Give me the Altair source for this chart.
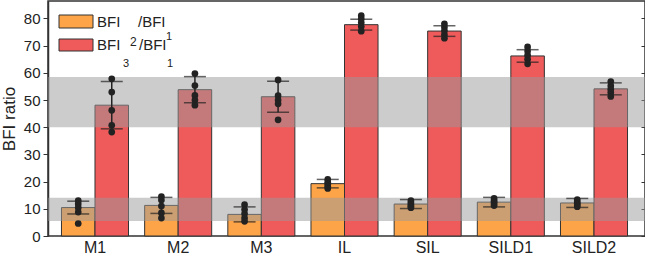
import altair as alt
import pandas as pd

# ---- data -------------------------------------------------------------
CATEGORIES = ["M1", "M2", "M3", "IL", "SIL", "SILD1", "SILD2"]
SERIES = ["BFI3/BFI1", "BFI2/BFI1"]

MEAN_31 = [10.45, 11.25, 7.95, 19.25, 11.75, 12.45, 12.15]
SD_31 = [2.35, 2.95, 2.75, 1.55, 1.65, 1.75, 1.65]
MEAN_21 = [48.1, 53.8, 51.2, 77.7, 75.35, 66.2, 54.1]
SD_21 = [8.7, 4.8, 5.7, 2.0, 1.95, 2.3, 2.2]

POINTS_31 = [
    [13.0, 11.8, 10.4, 8.8, 4.6],
    [14.5, 13.2, 11.0, 8.5, 6.6],
    [11.5, 9.7, 8.2, 6.6, 5.4],
    [20.8, 19.8, 19.0, 18.2, 17.5],
    [13.0, 12.2, 11.5, 10.9, 10.4],
    [13.8, 13.0, 12.5, 11.9, 11.2],
    [13.4, 12.6, 12.0, 11.4, 10.8],
]
POINTS_21 = [
    [57.8, 52.9, 46.2, 40.7, 38.2],
    [59.7, 55.3, 51.7, 50.0, 48.1],
    [57.4, 51.6, 50.0, 48.6, 42.7],
    [81.0, 79.8, 78.5, 77.0, 75.3],
    [78.0, 76.8, 75.5, 74.0, 72.7],
    [69.5, 68.0, 66.5, 65.0, 63.3],
    [56.8, 55.2, 54.0, 52.8, 51.3],
]

# shaded reference ranges
BAND_LO = [5.5, 40.0]
BAND_HI = [14.1, 58.5]

Y_TICKS = [0, 10, 20, 30, 40, 50, 60, 70, 80]

# ---- tables -----------------------------------------------------------
bar_rows = []
for s, means, sds in [(SERIES[0], MEAN_31, SD_31), (SERIES[1], MEAN_21, SD_21)]:
    for c, m, sd in zip(CATEGORIES, means, sds):
        bar_rows.append({"category": c, "series": s, "mean": m,
                         "lo": m - sd, "hi": m + sd})
bars_df = pd.DataFrame(bar_rows)

pt_rows = []
for s, pts in [(SERIES[0], POINTS_31), (SERIES[1], POINTS_21)]:
    for c, vals in zip(CATEGORIES, pts):
        for v in vals:
            pt_rows.append({"category": c, "series": s, "value": v})
points_df = pd.DataFrame(pt_rows)

bands_df = pd.DataFrame({"lo": BAND_LO, "hi": BAND_HI})

# ---- style ------------------------------------------------------------
W, H = 597, 235
FONT = "Liberation Sans"
ORANGE = "#fda448"
RED = "#ef5b5b"
DARK = "#222222"
EDGE = "#333333"

y_scale = alt.Scale(domain=[0, 86.4], nice=False, zero=True)

X = alt.X(
    "category:N",
    sort=CATEGORIES,
    scale=alt.Scale(paddingInner=0.194, paddingOuter=0.162, range=[0, 593]),
    axis=alt.Axis(title=None, ticks=False, domain=False, labelAngle=0,
                  labelFontSize=16, labelFont=FONT, labelColor=DARK,
                  labelPadding=3),
)
XOFF = alt.XOffset("series:N", sort=SERIES,
                   scale=alt.Scale(paddingInner=0, paddingOuter=0))

color = alt.Color("series:N", scale=alt.Scale(domain=SERIES, range=[ORANGE, RED]),
                  legend=None)

bars = alt.Chart(bars_df).mark_bar(stroke=EDGE, strokeWidth=1, opacity=1).encode(
    x=X,
    xOffset=XOFF,
    y=alt.Y("mean:Q", scale=y_scale,
            axis=alt.Axis(title="BFI ratio", values=Y_TICKS, grid=False,
                          domainColor=EDGE, domainWidth=1.5,
                          tickColor=EDGE, tickSize=5, tickWidth=1,
                          labelFontSize=15, labelFont=FONT, labelColor=DARK,
                          labelPadding=3, titleFont=FONT, titleFontSize=17,
                          titleFontWeight="normal", titleColor=DARK,
                          titlePadding=5)),
    color=color,
)

bands = alt.Chart(bands_df).mark_rect(color="#999999", opacity=0.5).encode(
    x=alt.value(0),
    x2=alt.value(W),
    y=alt.Y("lo:Q", scale=y_scale,
            axis=alt.Axis(orient="right", offset=-4, labels=False, domain=False,
                          values=Y_TICKS, grid=False, tickColor=EDGE,
                          tickSize=4, tickWidth=1, title=None)),
    y2="hi:Q",
)

whiskers = alt.Chart(bars_df).mark_rule(color=DARK, strokeWidth=1.5).encode(
    x=X, xOffset=XOFF,
    y=alt.Y("lo:Q", scale=y_scale, axis=None),
    y2="hi:Q",
)

caps_hi = alt.Chart(bars_df).mark_tick(color=DARK, size=22, thickness=1.5,
                                       orient="horizontal").encode(
    x=X, xOffset=XOFF, y=alt.Y("hi:Q", scale=y_scale, axis=None))
caps_lo = alt.Chart(bars_df).mark_tick(color=DARK, size=22, thickness=1.5,
                                       orient="horizontal").encode(
    x=X, xOffset=XOFF, y=alt.Y("lo:Q", scale=y_scale, axis=None))

dots = alt.Chart(points_df).mark_circle(color=DARK, size=45, opacity=1).encode(
    x=X, xOffset=XOFF, y=alt.Y("value:Q", scale=y_scale, axis=None))

# ---- legend drawn in the upper-left corner ----------------------------
one = alt.Data(values=[{}])


def swatch(fill, x0, x1, y0, y1):
    return alt.Chart(one).mark_rect(fill=fill, stroke=EDGE, strokeWidth=1).encode(
        x=alt.value(x0), x2=alt.value(x1), y=alt.value(y0), y2=alt.value(y1))


def label(txt, x, y, size):
    return alt.Chart(one).mark_text(align="left", baseline="alphabetic",
                                    font=FONT, fontSize=size, color=DARK).encode(
        x=alt.value(x), y=alt.value(y), text=alt.value(txt))


legend = [
    swatch(ORANGE, 11, 45, 14, 27),
    swatch(RED, 11, 45, 38, 50),
    label("BFI", 49, 26, 15),
    label("/BFI", 90, 26, 15),
    label("BFI", 49, 49, 15),
    label("2", 82, 45, 12),
    label("/BFI", 91, 49, 15),
    label("1", 118, 39, 11),
    label("3", 75, 66, 11),
    label("1", 119, 66, 11),
]

chart = alt.layer(bars, bands, whiskers, caps_hi, caps_lo, dots, *legend).resolve_axis(
    y="independent"
).properties(
    width=W, height=H,
    autosize=alt.AutoSizeParams(type="none"),
    padding={"left": 48, "top": 1, "right": 0, "bottom": 19},
).configure_view(stroke=EDGE, strokeWidth=1.5)

chart.save("out.html", embed_options={"renderer": "svg", "actions": False})
